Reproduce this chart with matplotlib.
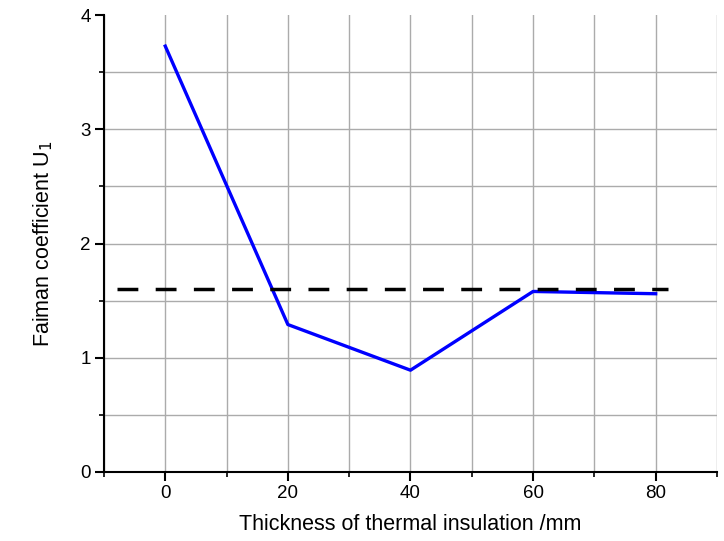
import matplotlib
matplotlib.use("Agg")
import matplotlib.pyplot as plt
from matplotlib.ticker import MultipleLocator

plt.rcParams['font.family'] = ['Liberation Sans', 'DejaVu Sans']

# data
thickness = [0, 20, 40, 60, 80]
faiman_u1 = [3.73, 1.29, 0.89, 1.58, 1.56]
reference_u1 = 1.6
ref_x = [-7.8, 82]

fig = plt.figure(figsize=(7.24, 5.41), dpi=100)
ax = fig.add_axes([0.1436, 0.128, 0.8467, 0.8437])

ax.plot(thickness, faiman_u1, color='#0000ff', linewidth=2.4, zorder=3)
ax.plot(ref_x, [reference_u1, reference_u1], color='black', linewidth=2.5,
        linestyle=(0, (6, 5)), zorder=4)

ax.set_xlim(-10, 90)
ax.set_ylim(0, 4)
ax.xaxis.set_major_locator(MultipleLocator(20))
ax.xaxis.set_minor_locator(MultipleLocator(10))
ax.yaxis.set_major_locator(MultipleLocator(1))
ax.yaxis.set_minor_locator(MultipleLocator(0.5))

ax.grid(True, which='both', color='#ababab', linewidth=1.0, zorder=0)
ax.set_axisbelow(True)

for side in ['top', 'right']:
    ax.spines[side].set_visible(False)
for side in ['left', 'bottom']:
    ax.spines[side].set_linewidth(1.5)

ax.tick_params(which='major', direction='out', length=6.5, width=1.5,
               labelsize=13.5, pad=3)
ax.tick_params(which='minor', direction='out', length=3.5, width=1.2)

ax.set_xlabel('Thickness of thermal insulation /mm', fontsize=15.5, labelpad=9)
ax.set_ylabel('Faiman coefficient U$_1$', fontsize=15.5, labelpad=18)

# no horizontal grid line along the top edge
fig.canvas.draw()
for t in ax.yaxis.get_major_ticks():
    if abs(t.get_loc() - 4) < 1e-9:
        t.gridline.set_visible(False)

fig.savefig('out.png', dpi=100)
